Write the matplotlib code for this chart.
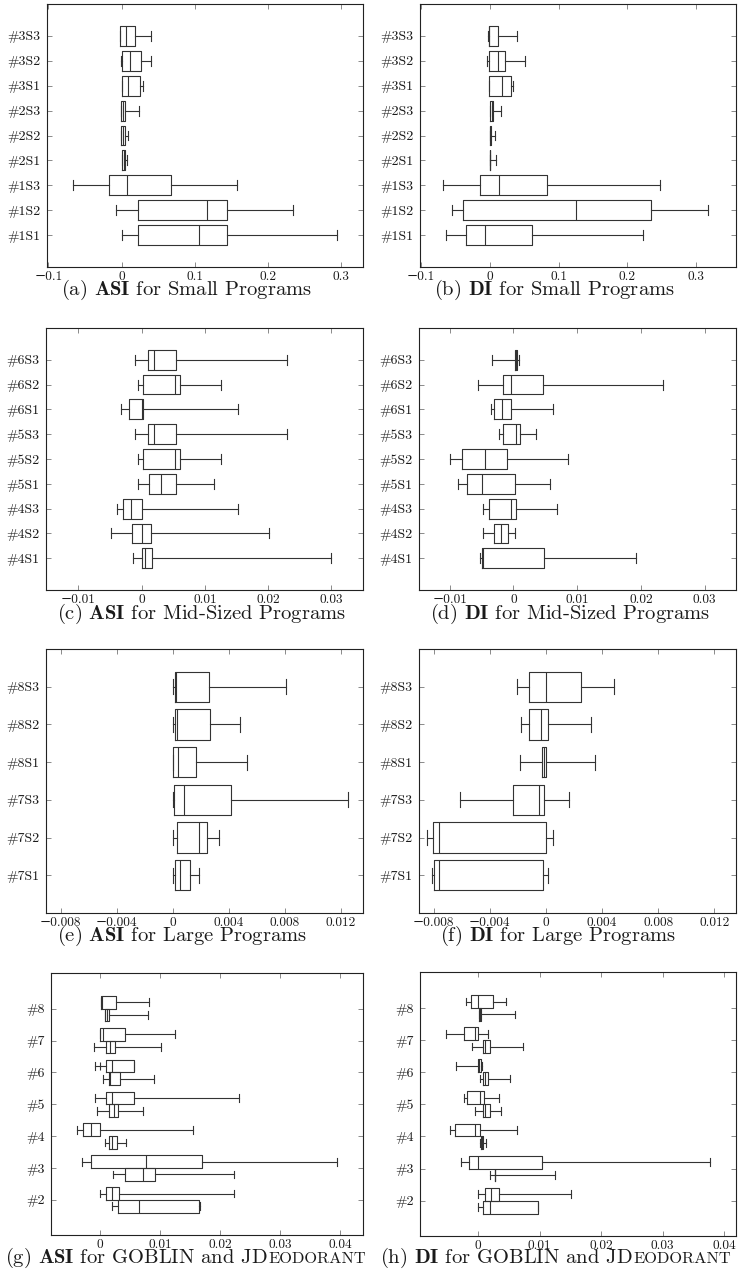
import numpy as np
import matplotlib.pyplot as plt

plt.rcParams['font.family'] = ['cmr10', 'DejaVu Serif']
plt.rcParams['mathtext.fontset'] = 'cm'
plt.rcParams['axes.formatter.use_mathtext'] = True

# ---- data: [whislo, q1, median, q3, whishi], bottom row first ----
small_labels = ['#1S1', '#1S2', '#1S3', '#2S1', '#2S2', '#2S3', '#3S1', '#3S2', '#3S3']
asi_small = [[0.0005, 0.022, 0.105, 0.144, 0.294],
             [-0.0077, 0.022, 0.116, 0.144, 0.234],
             [-0.067, -0.018, 0.0077, 0.068, 0.158],
             [0.0005, 0.0005, 0.003, 0.005, 0.007],
             [-0.0005, -0.0005, 0.002, 0.004, 0.008],
             [-0.0005, -0.0005, 0.002, 0.004, 0.023],
             [0.001, 0.001, 0.0086, 0.0245, 0.029],
             [-0.0014, 0.0005, 0.0118, 0.026, 0.040],
             [-0.002, -0.002, 0.0064, 0.0177, 0.040]]
di_small = [[-0.0638, -0.0348, -0.0072, 0.0618, 0.223],
            [-0.0546, -0.039, 0.125, 0.235, 0.317],
            [-0.0686, -0.014, 0.0135, 0.0836, 0.248],
            [0.0, 0.0, 0.001, 0.001, 0.0087],
            [0.0, 0.0, 0.001, 0.002, 0.0072],
            [0.0, 0.0, 0.003, 0.004, 0.016],
            [-0.001, -0.0005, 0.0174, 0.031, 0.034],
            [-0.0034, -0.001, 0.012, 0.0217, 0.0507],
            [-0.0024, -0.001, -0.0005, 0.0116, 0.040]]

mid_labels = ['#4S1', '#4S2', '#4S3', '#5S1', '#5S2', '#5S3', '#6S1', '#6S2', '#6S3']
asi_mid = [[-0.0013, 0.0, 0.0006, 0.0017, 0.0299],
           [-0.0049, -0.0015, 0.0, 0.0015, 0.0202],
           [-0.0039, -0.003, -0.0017, 0.0, 0.0153],
           [-0.0005, 0.0012, 0.003, 0.0055, 0.0115],
           [-0.0005, 0.0002, 0.0053, 0.006, 0.0126],
           [-0.001, 0.001, 0.002, 0.0055, 0.023],
           [-0.0033, -0.002, 0.0001, 0.0003, 0.0153],
           [-0.0005, 0.0002, 0.0053, 0.006, 0.0126],
           [-0.001, 0.001, 0.002, 0.0055, 0.023]]
di_mid = [[-0.0053, -0.0049, -0.0047, 0.0048, 0.0192],
          [-0.0048, -0.003, -0.002, -0.0008, 0.0002],
          [-0.0048, -0.0038, -0.0004, 0.0004, 0.0068],
          [-0.0087, -0.0072, -0.0049, 0.0002, 0.0058],
          [-0.00995, -0.0081, -0.0045, -0.001, 0.0085],
          [-0.0022, -0.0017, 0.0004, 0.0011, 0.0036],
          [-0.0035, -0.003, -0.0018, -0.0004, 0.0062],
          [-0.0056, -0.0017, -0.0003, 0.0046, 0.0235],
          [-0.0033, 0.0002, 0.0004, 0.0006, 0.0008]]

large_labels = ['#7S1', '#7S2', '#7S3', '#8S1', '#8S2', '#8S3']
asi_large = [[0.00005, 0.0002, 0.00055, 0.00124, 0.0019],
             [0.00005, 0.0003, 0.0019, 0.00247, 0.0033],
             [0.00002, 0.00007, 0.0008, 0.00416, 0.0125],
             [0.0, 0.0, 0.0004, 0.00166, 0.0053],
             [0.00005, 0.00017, 0.0003, 0.0027, 0.0048],
             [0.00005, 0.00017, 0.00024, 0.0026, 0.0081]]
di_large = [[-0.00812, -0.00795, -0.0076, -0.00019, 0.00017],
            [-0.00847, -0.00807, -0.0076, 0.0, 0.0005],
            [-0.0061, -0.00234, -0.00047, -0.00012, 0.00166],
            [-0.00185, -0.0003, -0.00017, 0.0, 0.0035],
            [-0.00175, -0.00118, -0.00033, 0.00017, 0.0032],
            [-0.00206, -0.00118, 0.0, 0.0025, 0.00483]]

tool_labels = ['#2', '#3', '#4', '#5', '#6', '#7', '#8']
asi_goblin = [[0.0, 0.00105, 0.002, 0.0032, 0.0223],
              [-0.003, -0.0015, 0.0076, 0.017, 0.0394],
              [-0.0038, -0.0029, -0.00155, 0.0, 0.0155],
              [-0.0009, 0.00105, 0.002, 0.0056, 0.0231],
              [-0.0009, 0.00105, 0.002, 0.0056, 0.0056],
              [0.0, 0.0, 0.0005, 0.0042, 0.0125],
              [0.0001, 0.00017, 0.0003, 0.00266, 0.0081]]
asi_goblin_fliers = [[], [], [], [], [0.0], [], []]
asi_jdeo = [[0.002, 0.0029, 0.0064, 0.0165, 0.0166],
            [0.0021, 0.0041, 0.0071, 0.0092, 0.0223],
            [0.00078, 0.0014, 0.0019, 0.0028, 0.0043],
            [-0.0005, 0.00155, 0.0023, 0.003, 0.0071],
            [0.0004, 0.0014, 0.0017, 0.0033, 0.0089],
            [-0.001, 0.0009, 0.00166, 0.00255, 0.0101],
            [0.00078, 0.00083, 0.0011, 0.00155, 0.008]]
di_goblin = [[0.0, 0.0011, 0.0022, 0.0034, 0.0151],
             [-0.0027, -0.0014, 0.0, 0.0104, 0.0377],
             [-0.0046, -0.0037, -0.0005, 0.0003, 0.0064],
             [-0.0022, -0.0017, 0.0004, 0.001, 0.0034],
             [-0.0035, 0.0, 0.0002, 0.0005, 0.00065],
             [-0.0051, -0.0022, -0.0005, 0.0, 0.0016],
             [-0.002, -0.0011, 0.0, 0.0024, 0.0046]]
di_jdeo = [[0.0, 0.0009, 0.0019, 0.0097, 0.0097],
           [0.0019, 0.0027, 0.0027, 0.0027, 0.0125],
           [0.0004, 0.0005, 0.00065, 0.0009, 0.0013],
           [-0.0005, 0.0009, 0.0012, 0.0019, 0.0038],
           [0.0003, 0.0009, 0.0011, 0.0016, 0.0052],
           [-0.001, 0.0008, 0.0011, 0.0019, 0.0073],
           [0.0001, 0.0002, 0.0003, 0.0005, 0.0061]]

ticks_small = [-0.1, 0, 0.1, 0.2, 0.3]
ticks_mid = [-0.01, 0, 0.01, 0.02, 0.03]
ticks_large = [-0.008, -0.004, 0, 0.004, 0.008, 0.012]
ticks_tools = [0, 0.01, 0.02, 0.03, 0.04]

W, H = 738, 1286
fig = plt.figure(figsize=(W / 100, H / 100), dpi=100)
LC = '#333333'
TC = '#1a1a1a'


def make_ax(l, r, t, b):
    ax = fig.add_axes([l / W, 1 - b / H, (r - l) / W, (b - t) / H])
    for s in ax.spines.values():
        s.set_linewidth(0.8)
        s.set_color('#222222')
    ax.tick_params(direction='in', length=3.5, width=0.6, color='#777777',
                   top=True, right=True, labelcolor=TC)
    ax.tick_params(axis='x', labelsize=9.6, pad=3)
    ax.tick_params(axis='y', labelsize=10, pad=4.5)
    return ax


def draw(ax, rows, pos, width, capw, fliers=None):
    stats = []
    for i, r in enumerate(rows):
        stats.append(dict(whislo=r[0], q1=r[1], med=r[2], q3=r[3], whishi=r[4],
                          fliers=fliers[i] if fliers else []))
    lp = dict(color=LC, linewidth=0.8)
    ax.bxp(stats, positions=pos, widths=width, capwidths=capw,
           orientation='horizontal', manage_ticks=False, showfliers=True,
           boxprops=lp, whiskerprops=lp, capprops=lp, medianprops=lp,
           flierprops=dict(marker='|', markersize=6, markeredgecolor=LC,
                           markeredgewidth=0.8))


def fmt(v):
    return ('%g' % v).replace('-', '\u2212')


def set_axes(ax, xlim, ylim, xticks, ypos, ylabels):
    ax.set_xlim(*xlim)
    ax.set_ylim(*ylim)
    ax.set_xticks(xticks, [fmt(v) for v in xticks])
    ax.set_yticks(ypos, ylabels)


pos9 = np.arange(1, 10)
pos6 = np.arange(1, 7)
pos7 = np.arange(1, 8)

# (a)
ax = make_ax(47, 363, 4, 267)
draw(ax, asi_small, pos9, 0.8, 0.4)
set_axes(ax, (-0.102, 0.3295), (-0.28, 10.28), ticks_small, pos9, small_labels)
# (b)
ax = make_ax(420, 736, 4, 267)
draw(ax, di_small, pos9, 0.8, 0.4)
set_axes(ax, (-0.1015, 0.358), (-0.28, 10.28), ticks_small, pos9, small_labels)
# (c)
ax = make_ax(46, 363, 328, 590)
draw(ax, asi_mid, pos9, 0.8, 0.4)
set_axes(ax, (-0.0151, 0.035), (-0.28, 10.28), ticks_mid, pos9, mid_labels)
# (d)
ax = make_ax(419, 736, 328, 590)
draw(ax, di_mid, pos9, 0.8, 0.4)
set_axes(ax, (-0.0148, 0.0349), (-0.28, 10.28), ticks_mid, pos9, mid_labels)
# (e)
ax = make_ax(46, 363, 649, 913)
draw(ax, asi_large, pos6, 0.8, 0.4)
set_axes(ax, (-0.00905, 0.0136), (0, 7), ticks_large, pos6, large_labels)
# (f)
ax = make_ax(419, 736, 649, 913)
draw(ax, di_large, pos6, 0.8, 0.4)
set_axes(ax, (-0.00904, 0.01354), (0, 7), ticks_large, pos6, large_labels)
# (g)
ax = make_ax(51, 363, 973, 1235)
draw(ax, asi_goblin, pos7 + 0.2, 0.4, 0.24, asi_goblin_fliers)
draw(ax, asi_jdeo, pos7 - 0.2, 0.4, 0.24)
set_axes(ax, (-0.0082, 0.0438), (-0.1, 8.12), ticks_tools, pos7, tool_labels)
# (h)
ax = make_ax(420, 736, 972, 1236)
draw(ax, di_goblin, pos7 + 0.2, 0.4, 0.24)
draw(ax, di_jdeo, pos7 - 0.2, 0.4, 0.24)
set_axes(ax, (-0.0094, 0.0419), (-0.1, 8.12), ticks_tools, pos7, tool_labels)

# captions
CS = 14.8
caps = [(186, 295, r'(a) $\mathbf{ASI}$ for Small Programs'),
        (554, 295, r'(b) $\mathbf{DI}$ for Small Programs'),
        (202, 619, r'(c) $\mathbf{ASI}$ for Mid-Sized Programs'),
        (570, 619, r'(d) $\mathbf{DI}$ for Mid-Sized Programs'),
        (182, 941, r'(e) $\mathbf{ASI}$ for Large Programs'),
        (558, 941, r'(f) $\mathbf{DI}$ for Large Programs')]
for x, y, s in caps:
    fig.text(x / W, 1 - y / H, s, ha='center', va='baseline', fontsize=CS, color=TC)

# (g), (h): "JDeodorant" with small caps imitated by a smaller second text
renderer = fig.canvas.get_renderer()
for x, s in [(5, r'(g) $\mathbf{ASI}$ for GOBLIN and JD'),
             (380, r'(h) $\mathbf{DI}$ for GOBLIN and JD')]:
    yb = 1 - 1263 / H
    t = fig.text(x / W, yb, s, ha='left', va='baseline', fontsize=CS, color=TC)
    bb = t.get_window_extent(renderer)
    fig.text(bb.x1 / W + 0.5 / W, yb, 'EODORANT', ha='left', va='baseline',
             fontsize=CS * 0.8, color=TC)

fig.savefig('out.png', dpi=100)
